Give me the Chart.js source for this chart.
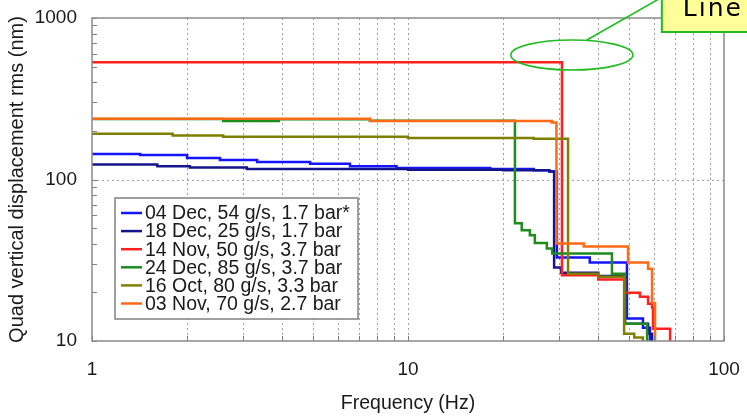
<!DOCTYPE html>
<html><head><meta charset="utf-8">
<style>html,body{margin:0;padding:0;background:#fff;overflow:hidden}#wrap{width:747px;height:418px}</style>
<script src="https://cdn.jsdelivr.net/npm/chart.js@4/dist/chart.umd.min.js"></script>
</head><body><div id="wrap"><canvas id="c" width="747" height="418"></canvas></div>
<script>
// ---------- data ----------
const seriesLabels = [
  '04 Dec, 54 g/s, 1.7 bar*',
  '18 Dec, 25 g/s, 1.7 bar',
  '14 Nov, 50 g/s, 3.7 bar',
  '24 Dec, 85 g/s, 3.7 bar',
  '16 Oct, 80 g/s, 3.3 bar',
  '03 Nov, 70 g/s, 2.7 bar'
];
const seriesColors = ['#1414ff', '#14148c', '#ff2020', '#1e8c1e', '#808000', '#ff6a14'];

// value[i] holds from freq[i] up to freq[i+1] (step curves, rms cumulative)
const dec04Freq = [1, 1.42, 2.0, 2.54, 3.33, 4.9, 6.55, 9.2, 18.2, 25, 28, 29.6, 37.6, 49.3, 55.4, 58.3];
const dec04Val  = [144, 142, 136, 132, 128.5, 125, 121, 118, 116, 114, 112, 32.9, 30.6, 13.8, 12.1, 9.5];

const dec18Freq = [1, 1.61, 2.04, 3.09, 10, 20, 28, 29.0, 30.5, 40, 48.6, 57.5, 59.2];
const dec18Val  = [124, 121, 118.5, 116, 115, 114, 112, 28.5, 26.5, 25.3, 12.8, 11.1, 9.5];

const nov14Freq = [1, 30.7, 40, 48.6, 54.2, 57.5, 59.2, 59.6, 67.5];
const nov14Val  = [532, 25.5, 24, 19.9, 18.8, 17.0, 16.1, 11.9, 9.5];

const dec24Freq = [1, 2.6, 3.9, 7.58, 21.8, 22.9, 24.3, 25.2, 27.5, 28.6, 44.2, 48.6, 57.1];
const dec24Val  = [237, 230, 236, 231, 53.6, 48.5, 45.1, 40.5, 37.4, 34.8, 26.1, 12.8, 9.5];

const oct16Freq = [1, 1.8, 2.6, 10, 25, 32.1, 40, 48.3, 52, 55.4];
const oct16Val  = [192, 187, 184, 181, 179, 26.1, 25, 11.1, 10.5, 9.5];

const nov03Freq = [1, 7.58, 28.5, 29.5, 36, 49.7, 57.5, 59.2, 60.5];
const nov03Val  = [238, 230, 225, 40.2, 38.5, 30.6, 28, 17.2, 9.5];

const seriesFreqs = [dec04Freq, dec18Freq, nov14Freq, dec24Freq, oct16Freq, nov03Freq];
const seriesVals  = [dec04Val, dec18Val, nov14Val, dec24Val, oct16Val, nov03Val];

const xTickValues = [1,2,3,4,5,6,7,8,9,10,20,30,40,50,60,70,80,90,100];
const yTickValues = [10,20,30,40,50,60,70,80,90,100,200,300,400,500,600,700,800,900,1000];
const xLabelValues = [1, 10, 100];
const yLabelValues = [10, 100, 1000];
const yGridValues = [100];

const xTitle = 'Frequency (Hz)';
const yTitle = 'Quad vertical displacement rms (nm)';
const calloutText = 'Line';

// ---------- chart ----------
const FONT = '"Liberation Sans", Arial, sans-serif';
const datasets = seriesLabels.map((lab, i) => ({
  label: lab,
  data: seriesFreqs[i].map((f, k) => ({x: f, y: seriesVals[i][k]})),
  borderColor: seriesColors[i],
  backgroundColor: seriesColors[i],
  borderWidth: 2.5,
  pointRadius: 0,
  fill: false,
  stepped: true,
  tension: 0,
  clip: 0,
  order: seriesLabels.length - 1 - i
}));

const decoPlugin = {
  id: 'deco',
  beforeDatasetsDraw(chart) {
    const {ctx, chartArea: a, scales: {x, y}} = chart;
    ctx.save();
    ctx.strokeStyle = '#a0a0a0';
    ctx.lineWidth = 1;
    ctx.setLineDash([2, 3]);
    x.ticks.forEach(t => {
      const px = Math.round(x.getPixelForValue(t.value)) + 0.5;
      if (px <= a.left + 2 || px >= a.right - 2) return;
      ctx.beginPath(); ctx.moveTo(px, a.top); ctx.lineTo(px, a.bottom); ctx.stroke();
    });
    yGridValues.forEach(v => {
      const py = Math.round(y.getPixelForValue(v)) + 0.5;
      ctx.beginPath(); ctx.moveTo(a.left, py); ctx.lineTo(a.right, py); ctx.stroke();
    });
    ctx.restore();
  },
  afterDatasetsDraw(chart) {
    const {ctx, chartArea: a, scales: {x, y}} = chart;
    ctx.save();
    // inner tick marks
    ctx.strokeStyle = '#808080';
    ctx.lineWidth = 1;
    y.ticks.forEach(t => {
      const py = Math.round(y.getPixelForValue(t.value)) + 0.5;
      ctx.beginPath(); ctx.moveTo(a.left, py); ctx.lineTo(a.left + 5, py); ctx.stroke();
    });
    x.ticks.forEach(t => {
      const px = Math.round(x.getPixelForValue(t.value)) + 0.5;
      ctx.beginPath(); ctx.moveTo(px, a.bottom); ctx.lineTo(px, a.bottom - 5); ctx.stroke();
    });
    // frame
    ctx.strokeStyle = '#8a8a8a';
    ctx.lineWidth = 1.5;
    ctx.strokeRect(a.left, a.top, a.right - a.left, a.bottom - a.top);

    // legend box
    const lx = a.left + 23, ly = a.top + 180, lw = 243, lh = 121;
    ctx.fillStyle = '#fff';
    ctx.fillRect(lx, ly, lw, lh);
    ctx.strokeStyle = '#808080';
    ctx.lineWidth = 1.5;
    ctx.strokeRect(lx, ly, lw, lh);
    ctx.font = '19.5px ' + FONT;
    ctx.textBaseline = 'middle';
    ctx.textAlign = 'left';
    chart.data.datasets.forEach((ds, i) => {
      const ry = ly + 15 + i * 18.1;
      ctx.strokeStyle = ds.borderColor;
      ctx.lineWidth = 2.5;
      ctx.beginPath(); ctx.moveTo(lx + 6, ry); ctx.lineTo(lx + 27, ry); ctx.stroke();
      ctx.fillStyle = '#1a1a1a';
      ctx.fillText(ds.label, lx + 30, ry + 1);
    });

    // callout annotation
    const cx = x.getPixelForValue(33), cy = y.getPixelForValue(590);
    ctx.strokeStyle = '#22bb22';
    ctx.lineWidth = 1.6;
    ctx.beginPath(); ctx.ellipse(cx, cy, 61, 15, 0, 0, Math.PI * 2); ctx.stroke();
    ctx.beginPath(); ctx.moveTo(cx + 15, cy - 15); ctx.lineTo(cx + 87, -1); ctx.stroke();
    ctx.fillStyle = '#ffff99';
    ctx.fillRect(cx + 90, -5, 110, 37);
    ctx.lineWidth = 2;
    ctx.strokeRect(cx + 90, -5, 110, 37);
    ctx.fillStyle = '#000';
    ctx.font = '25px "Comic Sans MS", "DejaVu Sans", sans-serif';
    try { ctx.letterSpacing = '2px'; } catch (e) {}
    ctx.textBaseline = 'alphabetic';
    ctx.fillText(calloutText, cx + 111, 16);
    ctx.restore();
  }
};

new Chart(document.getElementById('c'), {
  type: 'line',
  data: {datasets},
  plugins: [decoPlugin],
  options: {
    responsive: false,
    animation: false,
    events: [],
    layout: {padding: {left: 0, right: 23, top: 18, bottom: 0}},
    plugins: {legend: {display: false}, tooltip: {enabled: false}},
    scales: {
      x: {
        type: 'logarithmic', min: 1, max: 100,
        afterBuildTicks: s => { s.ticks = xTickValues.map(v => ({value: v})); },
        afterFit: s => { s.height = 77; s.paddingLeft = 0; s.paddingRight = 0; },
        grid: {display: false},
        border: {display: false},
        ticks: {
          autoSkip: false, maxRotation: 0, padding: 9, color: '#1a1a1a',
          font: {size: 19, family: FONT},
          callback: v => xLabelValues.includes(v) ? String(v) : ''
        },
        title: {display: true, text: xTitle, color: '#1a1a1a', font: {size: 19.5, family: FONT}, padding: {top: 0, bottom: 3}}
      },
      y: {
        type: 'logarithmic', min: 10, max: 1000,
        afterBuildTicks: s => { s.ticks = yTickValues.map(v => ({value: v})); },
        afterFit: s => { s.width = 92; s.paddingTop = 0; s.paddingBottom = 0; },
        grid: {display: false},
        border: {display: false},
        ticks: {
          autoSkip: false, padding: 7, color: '#1a1a1a',
          font: {size: 19, family: FONT},
          callback: v => yLabelValues.includes(v) ? String(v) : ''
        },
        title: {display: true, text: yTitle, color: '#1a1a1a', font: {size: 20, family: FONT}, padding: {top: 5, bottom: 0}}
      }
    }
  }
});
</script>
</body></html>
